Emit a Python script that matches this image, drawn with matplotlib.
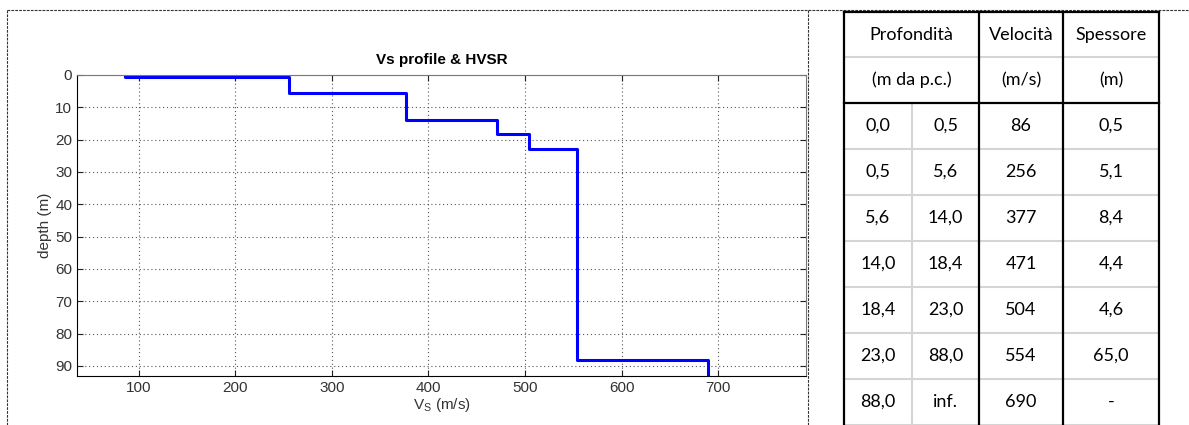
import matplotlib
matplotlib.use("Agg")
from matplotlib import pyplot as plt

matplotlib.rcParams["font.family"] = ["Liberation Sans", "DejaVu Sans"]
matplotlib.rcParams["mathtext.fontset"] = "custom"
matplotlib.rcParams["mathtext.rm"] = "Liberation Sans"

# layer data
top_depth = [0.0, 0.5, 5.6, 14.0, 18.4, 23.0, 88.0]
vs = [86, 256, 377, 471, 504, 554, 690]

# table text
top_txt = ["0,0", "0,5", "5,6", "14,0", "18,4", "23,0", "88,0"]
bot_txt = ["0,5", "5,6", "14,0", "18,4", "23,0", "88,0", "inf."]
vs_txt = ["86", "256", "377", "471", "504", "554", "690"]
thick_txt = ["0,5", "5,1", "8,4", "4,4", "4,6", "65,0", "-"]
head1 = ["Profondità", "Velocità", "Spessore"]
head2 = ["(m da p.c.)", "(m/s)", "(m)"]

W, H = 1189, 425
fig = plt.figure(figsize=(W / 100, H / 100), dpi=100)

# ---- Vs profile ----
ax = fig.add_axes([77 / W, 1 - 376 / H, (806 - 77) / W, (376 - 75) / H])
ymax = 93.1
xs, ys = [], []
for i, v in enumerate(vs):
    d0 = top_depth[i]
    d1 = top_depth[i + 1] if i + 1 < len(top_depth) else ymax
    xs += [v, v]
    ys += [d0, d1]
ax.plot(xs, ys, color="#0000ff", lw=2.2)
ax.set_xlim(36, 791)
ax.set_ylim(ymax, 0)
ax.set_xticks(range(100, 800, 100))
ax.set_yticks(range(0, 100, 10))
ax.grid(True, ls=(0, (1, 2.5)), color="#555555", lw=0.8)
ax.tick_params(direction="in", top=True, right=True, length=4, labelsize=11,
               labelcolor="#333333", color="#222222")
for s in ["top", "right"]:
    ax.spines[s].set_color("#777777")
ax.set_title("Vs profile & HVSR", fontsize=11, fontweight="bold", pad=8)
ax.set_xlabel(r"V$_{\rm S}$ (m/s)", fontsize=11, color="#333333", labelpad=1)
ax.set_ylabel("depth (m)", fontsize=11, color="#333333", labelpad=2)

# ---- overlay for borders and table (pixel coords) ----
ov = fig.add_axes([0, 0, 1, 1], facecolor="none")
ov.set_xlim(0, W)
ov.set_ylim(H, 0)
ov.axis("off")
dash = (0, (2.5, 1))
ov.plot([7, W], [10, 10], color="#333333", ls=dash, lw=0.8)
ov.plot([7, 7], [10, H], color="#333333", ls=dash, lw=0.8)
ov.plot([808, 808], [10, H], color="#333333", ls=dash, lw=0.8)

cols = [844, 912, 979, 1063, 1159]
rows = [12, 57, 103] + [103 + 46 * (k + 1) for k in range(7)]
grey = "#d4d4d4"
tf = ["Lato", "DejaVu Sans"]
fs = 13

# grey lines
ov.plot([cols[0], cols[-1]], [rows[1], rows[1]], color=grey, lw=1.5)
for r in rows[3:]:
    ov.plot([cols[0], cols[-1]], [r, r], color=grey, lw=1.5)
ov.plot([cols[1], cols[1]], [rows[2], H], color=grey, lw=1.5)
# black lines
ov.plot([cols[0], cols[-1]], [rows[0], rows[0]], color="black", lw=1.6)
ov.plot([cols[0], cols[-1]], [rows[2], rows[2]], color="black", lw=1.6)
for c in [cols[0], cols[2], cols[3], cols[4]]:
    ov.plot([c, c], [rows[0], H], color="black", lw=1.6)

hc = [(cols[0] + cols[2]) / 2, (cols[2] + cols[3]) / 2, (cols[3] + cols[4]) / 2]
for j in range(3):
    ov.text(hc[j], (rows[0] + rows[1]) / 2, head1[j], ha="center", va="center",
            fontsize=fs, family=tf)
    ov.text(hc[j], (rows[1] + rows[2]) / 2, head2[j], ha="center", va="center",
            fontsize=fs, family=tf)

cc = [(cols[0] + cols[1]) / 2, (cols[1] + cols[2]) / 2, hc[1], hc[2]]
for i in range(len(vs)):
    yc = (rows[2 + i] + rows[3 + i]) / 2
    for j, t in enumerate([top_txt[i], bot_txt[i], vs_txt[i], thick_txt[i]]):
        ov.text(cc[j], yc, t, ha="center", va="center", fontsize=fs, family=tf)

fig.savefig("out.png", dpi=100)
